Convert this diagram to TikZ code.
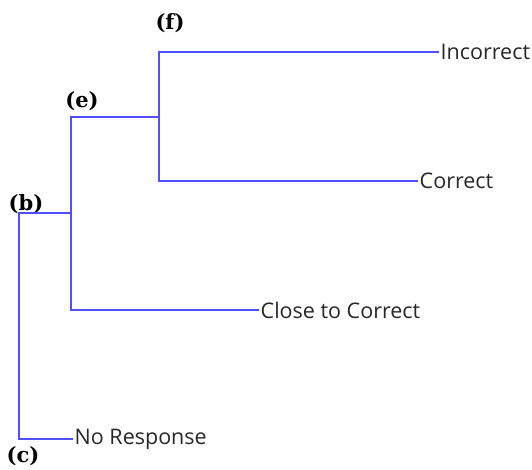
\documentclass[tikz,border=0pt]{standalone}
\usepackage{fontspec}
\setmainfont{DejaVu Serif}
\newfontfamily\leaffont{Open Sans}
\begin{document}
\begin{tikzpicture}[x=1pt,y=-1pt,
  branch/.style={draw={rgb,255:red,80;green,80;blue,255},line width=2.2pt},
  leaf/.style={anchor=west,inner sep=1.5pt,font=\leaffont\fontsize{21.5}{26}\selectfont,text={rgb,255:red,40;green,40;blue,40}},
  tag/.style={inner sep=0pt,font=\bfseries\fontsize{21}{25}\selectfont}]
\useasboundingbox (0,0) rectangle (532,469);
% junction coordinates
\coordinate (b) at (19,213);
\coordinate (c) at (19,439);
\coordinate (eb) at (71,213);
\coordinate (et) at (71,117);
\coordinate (ebot) at (71,310);
\coordinate (fm) at (159,117);
\coordinate (ft) at (159,52);
\coordinate (fb) at (159,181);
% leaves
\node[leaf] (inc) at (439,52) {Incorrect};
\node[leaf] (cor) at (418,181) {Correct};
\node[leaf] (close) at (259,310) {Close to Correct};
\node[leaf] (nr) at (73,439) {No Response};
% tags
\node[tag] (tf) at (170,23) {(f)};
\node[tag] (te) at (82,101) {(e)};
\node[tag] (tb) at (26,204) {(b)};
\node[tag] (tc) at (23,456) {(c)};
% branches
\draw[branch] (nr.west) -- (c) -- (b) -- (eb);
\draw[branch] (close.west) -- (ebot) -- (et) -- (fm);
\draw[branch] (inc.west) -- (ft) -- (fb) -- (cor.west);
\end{tikzpicture}
\end{document}
